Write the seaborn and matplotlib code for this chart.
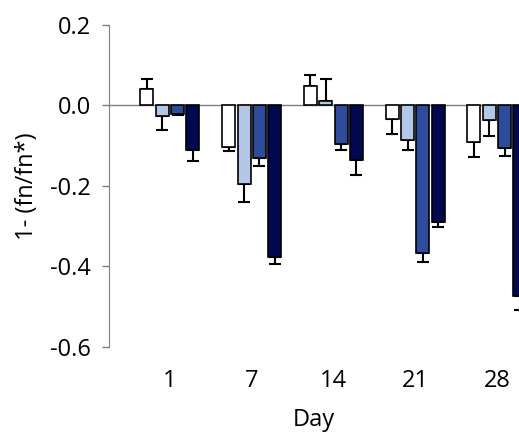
import numpy as np
import pandas as pd
import matplotlib
matplotlib.use('Agg')
import matplotlib.pyplot as plt
import seaborn as sns

days = ['1', '7', '14', '21', '28']
series = ['A', 'B', 'C', 'D']
vals_a = [0.042, -0.103, 0.048, -0.034, -0.092]
vals_b = [-0.026, -0.195, 0.010, -0.086, -0.037]
vals_c = [-0.022, -0.132, -0.096, -0.368, -0.106]
vals_d = [-0.111, -0.378, -0.136, -0.291, -0.473]
err_a = [0.024, 0.010, 0.027, 0.037, 0.037]
err_b = [0.035, 0.045, 0.055, 0.026, 0.040]
err_c = [0.003, 0.018, 0.015, 0.022, 0.021]
err_d = [0.027, 0.017, 0.036, 0.012, 0.036]
colors = ['#FFFFFF', '#B4C7E7', '#2F4B9B', '#000850']

all_vals = [vals_a, vals_b, vals_c, vals_d]
all_errs = [err_a, err_b, err_c, err_d]
rows = []
for s, v in zip(series, all_vals):
    for d, x in zip(days, v):
        rows.append({'day': d, 'series': s, 'value': x})
df = pd.DataFrame(rows)

sns.set_style('white')
plt.rcParams['font.family'] = ['Open Sans', 'DejaVu Sans']
plt.rcParams['axes.unicode_minus'] = False
plt.rcParams['text.color'] = 'black'
plt.rcParams['axes.labelcolor'] = 'black'
plt.rcParams['xtick.labelcolor'] = 'black'
plt.rcParams['ytick.labelcolor'] = 'black'

fig = plt.figure(figsize=(5.19, 4.36), dpi=100)
ax = fig.add_axes([0.210, 0.2048, 0.790, 0.7379])

sns.barplot(data=df, x='day', y='value', hue='series', order=days, hue_order=series,
            palette=colors, saturation=1, width=0.75, gap=0.15, edgecolor='black',
            linewidth=1.2, errorbar=None, legend=False, ax=ax, zorder=3)

# one-sided error bars, pointing away from zero
for cont, errs in zip(ax.containers, all_errs):
    for bar, e in zip(cont.patches, errs):
        xc = bar.get_x() + bar.get_width() / 2
        end = bar.get_y() + bar.get_height()
        lo, hi = (0, e) if end >= 0 else (e, 0)
        ax.errorbar(xc, end, yerr=[[lo], [hi]], fmt='none', ecolor='black',
                    elinewidth=1.5, capsize=4, capthick=1.5, zorder=2)

ax.axhline(0, color='#7f7f7f', lw=1.0, zorder=1)
ax.set_ylim(-0.6, 0.2)
ax.set_xlim(-0.746, 4.27)
ax.set_yticks([0.2, 0.0, -0.2, -0.4, -0.6])
ax.set_yticklabels(['0.2', '0.0', '-0.2', '-0.4', '-0.6'])
for s in ['top', 'right', 'bottom']:
    ax.spines[s].set_visible(False)
ax.spines['left'].set_color('#7f7f7f')
ax.tick_params(axis='y', length=5, width=1, color='#7f7f7f', direction='out',
               left=True, pad=8, labelsize=17)
ax.tick_params(axis='x', length=0, pad=16, labelsize=17)
ax.set_ylabel('1- (fn/fn*)', fontsize=17, labelpad=8)
ax.set_xlabel('Day', fontsize=17, labelpad=11)

fig.savefig('out.png', dpi=100, facecolor='white')
